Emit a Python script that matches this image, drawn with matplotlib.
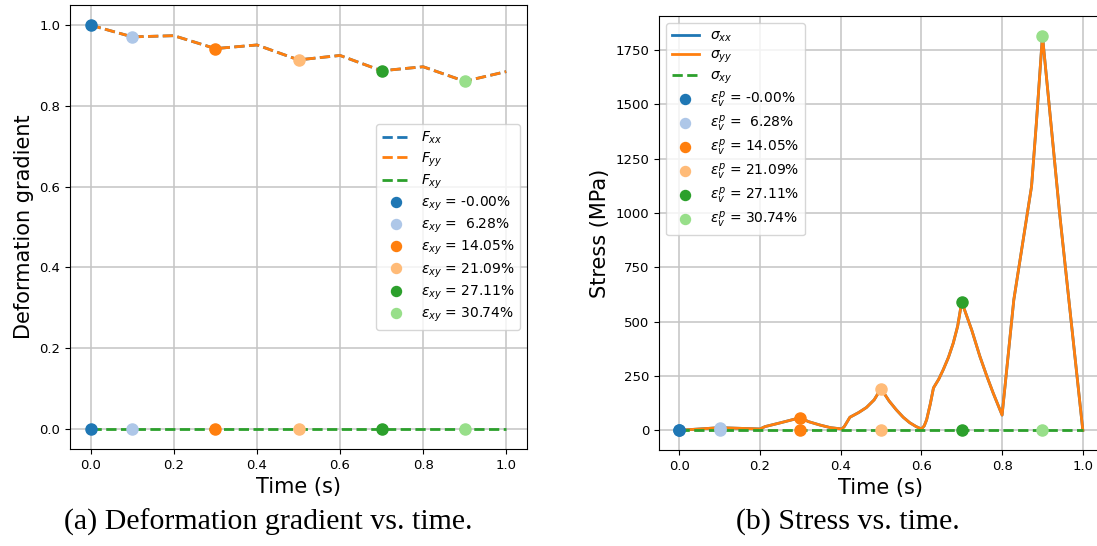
import matplotlib
matplotlib.use("Agg")
import matplotlib.pyplot as plt

# Deformation gradient samples
t_F = [0.0, 0.1, 0.2, 0.3, 0.4, 0.5, 0.6, 0.7, 0.8, 0.9, 1.0]
F_xx = [1.0, 0.971, 0.974, 0.942, 0.951, 0.914, 0.925, 0.887, 0.897, 0.861, 0.885]
F_yy = [1.0, 0.971, 0.974, 0.942, 0.951, 0.914, 0.925, 0.887, 0.897, 0.861, 0.885]
F_xy = [0.0] * len(t_F)

# Stress samples (MPa)
t_s = [0.0, 0.05, 0.1, 0.15, 0.2, 0.213, 0.25, 0.3, 0.32, 0.349, 0.375, 0.403,
       0.409, 0.423, 0.445, 0.464, 0.483, 0.5, 0.52, 0.538, 0.555, 0.571, 0.587,
       0.6, 0.607, 0.613, 0.622, 0.63, 0.643, 0.654, 0.667, 0.679, 0.69, 0.7,
       0.725, 0.745, 0.762, 0.778, 0.8, 0.829, 0.873, 0.885, 0.9, 0.943, 1.0]
s_xx = [0, 6, 12, 9, 6, 17, 34, 58, 40, 24, 12, 6,
        17, 60, 82, 105, 140, 192, 135, 94, 60, 35, 17,
        6, 20, 48, 120, 195, 235, 278, 335, 401, 480, 591,
        460, 340, 250, 171, 70, 600, 1123, 1416, 1816, 990, 0]
s_yy = list(s_xx)
s_xy = [0.0] * len(t_s)

# marked states
t_mark = [0.0, 0.1, 0.3, 0.5, 0.7, 0.9]
F_mark = [1.0, 0.971, 0.942, 0.914, 0.887, 0.861]
s_mark = [0, 12, 58, 192, 591, 1816]
eps_mark = [-0.00, 6.28, 14.05, 21.09, 27.11, 30.74]
mark_colors = ['#1f77b4', '#aec7e8', '#ff7f0e', '#ffbb78', '#2ca02c', '#98df8a']

fig = plt.figure(figsize=(10.97, 5.46), dpi=100)
axF = fig.add_axes([70/1097, 97/546, 457/1097, 444/546])
axS = fig.add_axes([659/1097, 96/546, 444/1097, 434/546])

#-------------------------------------------------------------------------------
# Deformation gradient
axF.plot(t_F, F_xx, '--', color='#1f77b4', lw=2, label='$F_{xx}$')
axF.plot(t_F, F_yy, '--', color='#ff7f0e', lw=2, label='$F_{yy}$')
axF.plot(t_F, F_xy, '--', color='#2ca02c', lw=2, label='$F_{xy}$')
for t, f, e, c in zip(t_mark, F_mark, eps_mark, mark_colors):
    axF.plot(t, f, 'o', color=c, ms=8, zorder=3,
             label=f'$\\varepsilon_{{xy}}$ = {e:5.2f}%')
    axF.plot(t, 0.0, 'o', color=c, ms=8, zorder=3)
axF.set_xlabel('Time (s)', fontsize=15)
axF.set_ylabel('Deformation gradient', fontsize=15)
axF.tick_params(labelsize=9.5)
axF.grid(True, lw=1.1, color='#c4c4c4')
axF.legend(loc='center right', fontsize=10, labelspacing=0.28, markerscale=0.9)

#-------------------------------------------------------------------------------
# Stress
axS.plot(t_s, s_xx, '-', color='#1f77b4', lw=2, label='$\\sigma_{xx}$')
axS.plot(t_s, s_yy, '-', color='#ff7f0e', lw=2, label='$\\sigma_{yy}$')
axS.plot(t_s, s_xy, '--', color='#2ca02c', lw=2, label='$\\sigma_{xy}$')
for t, s, e, c in zip(t_mark, s_mark, eps_mark, mark_colors):
    axS.plot(t, s, 'o', color=c, ms=8, zorder=3,
             label=f'$\\varepsilon_v^p$ = {e:5.2f}%')
    axS.plot(t, 0.0, 'o', color=c, ms=8, zorder=3)
axS.set_xlabel('Time (s)', fontsize=15)
axS.set_ylabel('Stress (MPa)', fontsize=15)
axS.set_yticks(range(0, 2000, 250))
axS.tick_params(labelsize=9.5)
axS.grid(True, lw=1.1, color='#c4c4c4')
axS.legend(loc='upper left', fontsize=10, labelspacing=0.28, markerscale=0.9)

fig.text(268/1097, 1 - 522/546, '(a) Deformation gradient vs. time.',
         ha='center', va='center', fontsize=21.5, family='Liberation Serif')
fig.text(848/1097, 1 - 522/546, '(b) Stress vs. time.',
         ha='center', va='center', fontsize=21.5, family='Liberation Serif')

fig.savefig('out.png', dpi=100)
